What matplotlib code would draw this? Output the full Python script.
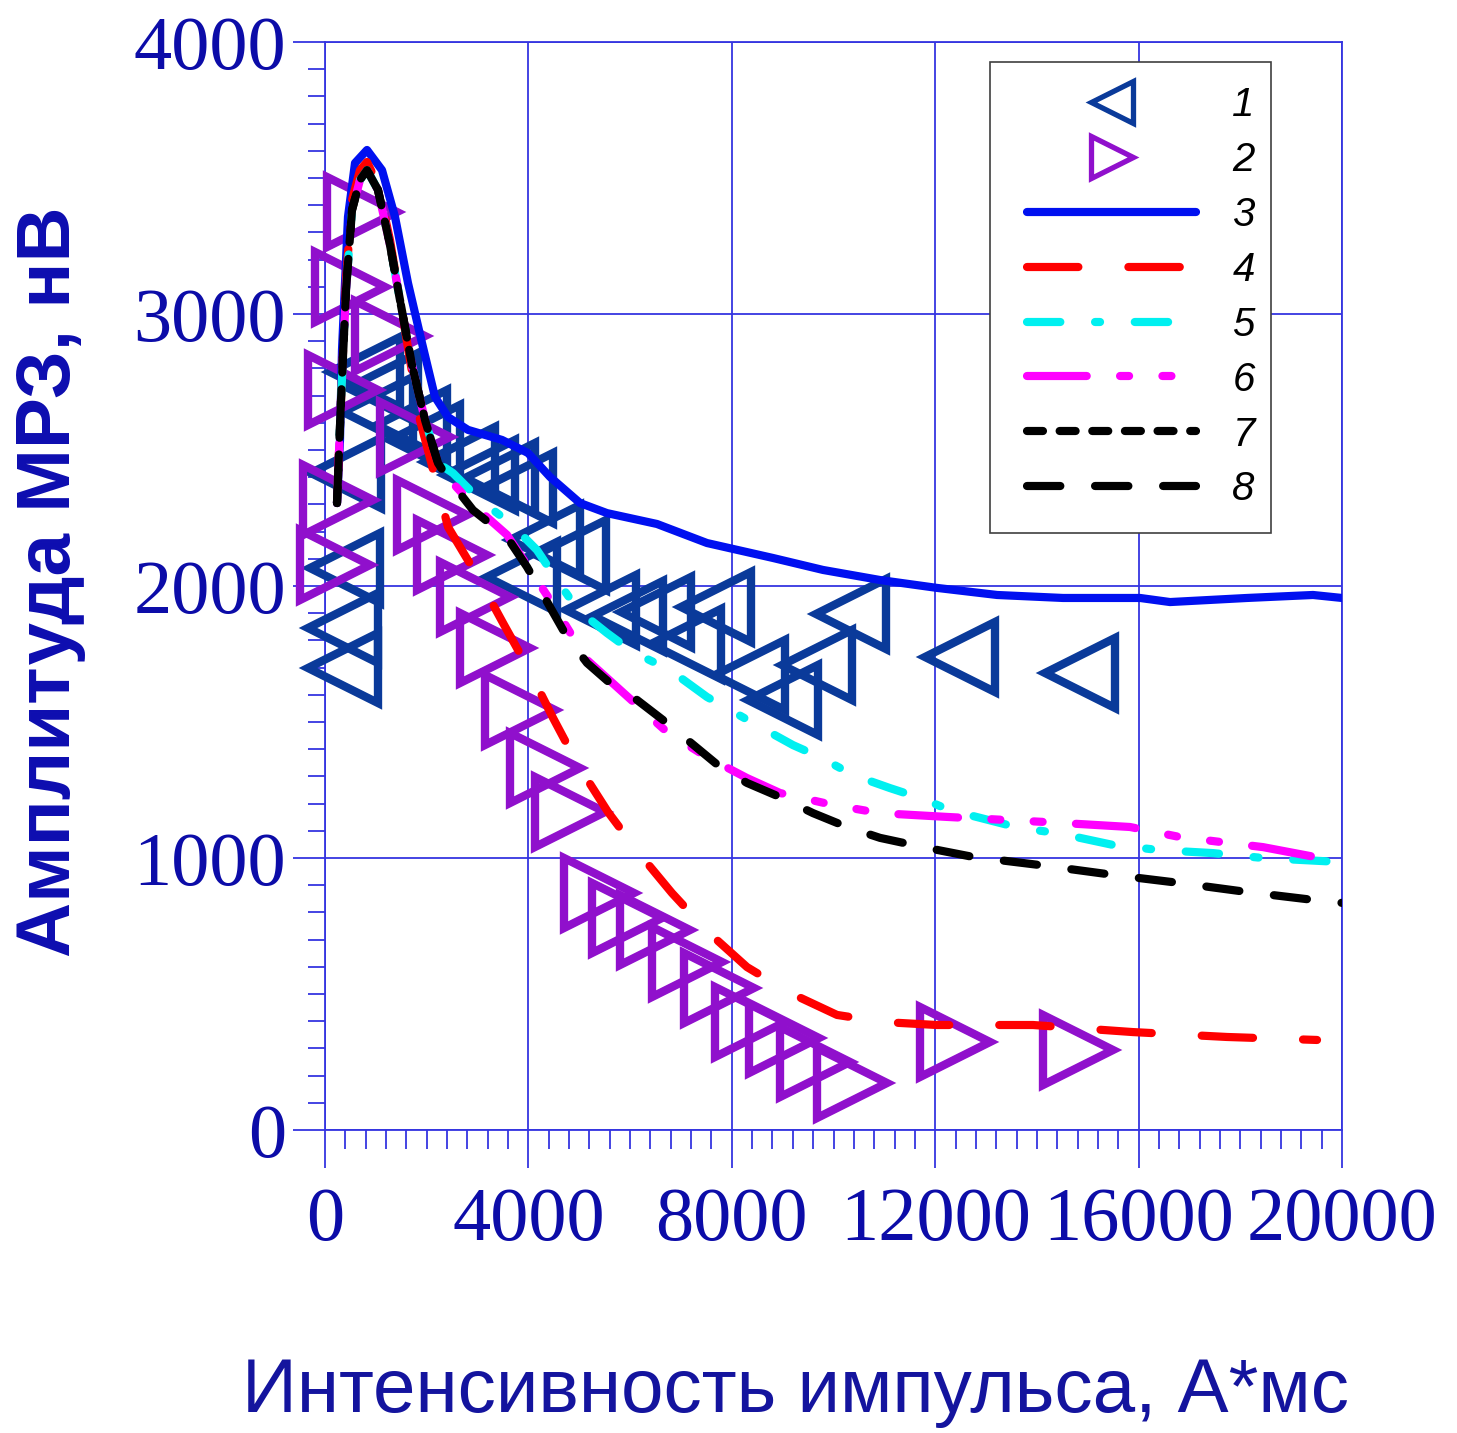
import matplotlib
matplotlib.use('Agg')
import matplotlib.pyplot as plt
from matplotlib.ticker import MultipleLocator
from matplotlib.patches import Rectangle

plt.rcParams['lines.scale_dashes'] = False
plt.rcParams['font.family'] = ['Liberation Sans', 'DejaVu Sans']

# ---- data ----
s1_x = [354, 354, 393, 413, 787, 1141, 1042, 1711, 1967, 2655, 3048, 3442, 3795, 3874,
        4327, 4838, 5428, 5959, 6509, 7099, 7689, 8358, 9007, 9676, 10344, 12488, 14848]
s1_y = [1699, 1846, 2066, 2415, 2787, 2728, 2640, 2592, 2537, 2456, 2408, 2397, 2360, 2033,
        2169, 2114, 1912, 1890, 1904, 1787, 1923, 1673, 1581, 1710, 1897, 1739, 1680]

s2_x = [728, 490, 1280, 350, 1770, 260, 200, 2100, 2500, 2950, 3340, 3830, 4330, 4820,
        5390, 5940, 6490, 7120, 7750, 8360, 9030, 9640, 10365, 12390, 14810]
s2_y = [3375, 3100, 2920, 2720, 2548, 2316, 2077, 2260, 2115, 1960, 1772, 1544, 1330, 1170,
        871, 779, 735, 618, 522, 397, 338, 250, 173, 323, 294]

c3_x = [236, 295, 334, 393, 452, 590, 826, 1121, 1377, 1632, 1908, 2163, 2419, 2812, 3481,
        3992, 4425, 5015, 5546, 6529, 7512, 8810, 9794, 10915, 12036, 13216, 14514, 16029,
        16618, 18132, 19430, 20000]
c3_y = [2305, 2537, 2868, 3114, 3357, 3555, 3603, 3529, 3357, 3114, 2893, 2695, 2621, 2574,
        2537, 2489, 2401, 2305, 2268, 2228, 2158, 2103, 2059, 2022, 1993, 1967, 1956, 1956,
        1941, 1956, 1967, 1956]

c4_x = [236, 315, 413, 531, 688, 826, 1042, 1278, 1475, 1672, 1868, 2163, 2419, 3009, 3501,
        3992, 4484, 4975, 5565, 6155, 6824, 7532, 8299, 9145, 10069, 10974, 12036, 13924,
        15890, 17739, 19509]
c4_y = [2305, 2684, 3125, 3419, 3529, 3559, 3474, 3272, 3051, 2831, 2610, 2401, 2217, 2033,
        1864, 1699, 1515, 1342, 1169, 1022, 871, 728, 599, 504, 423, 397, 386, 386, 360, 342,
        331]

peak_x = [236, 315, 413, 531, 688, 826, 1042, 1278, 1475, 1711, 1967, 2222]
peak_y = [2305, 2684, 3088, 3382, 3493, 3529, 3456, 3254, 3051, 2812, 2610, 2452]

c5_x = peak_x + [2517, 3048, 3638, 4169, 4563, 4975, 5546, 6057, 6785, 7512, 8554, 9204,
                 9735, 10384, 11111, 11701, 12291, 13668, 14396, 15497, 16421, 17464, 18447,
                 20000]
c5_y = peak_y + [2415, 2316, 2232, 2132, 2022, 1912, 1827, 1757, 1691, 1592, 1482, 1415,
                 1371, 1305, 1257, 1221, 1176, 1110, 1092, 1048, 1029, 1018, 1000, 985]

c6_x = peak_x + [2399, 2911, 3579, 4425, 5153, 6136, 6745, 7512, 8299, 8948, 9990, 10915,
                 12232, 14199, 15831, 16814, 18447, 20000]
c6_y = peak_y + [2401, 2298, 2188, 1949, 1728, 1562, 1460, 1371, 1294, 1239, 1195, 1165,
                 1151, 1132, 1114, 1077, 1040, 985]

c7_x = peak_x
c7_y = peak_y

c8_x = peak_x + [2399, 2911, 3579, 3973, 4425, 4759, 5153, 5605, 6136, 6726, 7768, 8299,
                 8948, 9597, 10266, 10915, 11839, 12744, 14061, 15497, 16814, 18132, 19430,
                 20000]
c8_y = peak_y + [2401, 2279, 2180, 2070, 1923, 1813, 1717, 1643, 1581, 1496, 1335, 1276,
                 1224, 1165, 1114, 1074, 1037, 1004, 974, 938, 908, 875, 846, 835]

legend_labels = ['1', '2', '3', '4', '5', '6', '7', '8']
x_ticks = [0, 4000, 8000, 12000, 16000, 20000]
y_ticks = [0, 1000, 2000, 3000, 4000]

# ---- figure ----
W, H = 1457, 1433
AX_L, AX_R, AX_T, AX_B = 325, 1342, 42, 1130
fig = plt.figure(figsize=(W / 100, H / 100), dpi=100)
ax = fig.add_axes([AX_L / W, 1 - AX_B / H, (AX_R - AX_L) / W, (AX_B - AX_T) / H])


def ax_frac(px, py):
    return (px - AX_L) / (AX_R - AX_L), (AX_B - py) / (AX_B - AX_T)


grid_c = '#3535e0'
tick_c = '#0c0ca8'
lw = 5.9

h1, = ax.plot(s1_x, s1_y, ls='none', marker='<', ms=50, mfc='none', mec='#0a3a9a',
              mew=6, clip_on=False, zorder=3)
h2, = ax.plot(s2_x, s2_y, ls='none', marker='>', ms=50, mfc='none', mec='#9010cc',
              mew=6, clip_on=False, zorder=3)
l3, = ax.plot(c3_x, c3_y, color='#0010f0', lw=lw, solid_capstyle='round',
              solid_joinstyle='round', zorder=4)
l4, = ax.plot(c4_x, c4_y, color='#ff0000', lw=lw, dashes=(37, 36),
              dash_capstyle='round', zorder=4)
l5, = ax.plot(c5_x, c5_y, color='#00f0f0', lw=lw, dashes=(24, 25, 3.6, 25),
              dash_capstyle='round', zorder=4)
l6, = ax.plot(c6_x, c6_y, color='#ff00ff', lw=lw, dashes=(43, 24, 6.5, 24, 6.5, 24),
              dash_capstyle='round', zorder=4)
l7, = ax.plot(c7_x, c7_y, color='#000000', lw=lw, dashes=(11.5, 12),
              dash_capstyle='round', zorder=4)
l8, = ax.plot(c8_x, c8_y, color='#000000', lw=lw, dashes=(24, 25),
              dash_capstyle='round', zorder=4.1)

ax.set_xlim(0, 20000)
ax.set_ylim(0, 4000)
ax.set_xticks(x_ticks)
ax.set_yticks(y_ticks)
ax.xaxis.set_minor_locator(MultipleLocator(400))
ax.yaxis.set_minor_locator(MultipleLocator(100))
ax.grid(True, which='major', color=grid_c, lw=1.3, zorder=1)
for sp in ax.spines.values():
    sp.set_color(grid_c)
    sp.set_linewidth(1.3)
ax.tick_params(which='major', direction='out', width=1.3, color=grid_c,
               labelsize=55, labelcolor=tick_c)
ax.tick_params(which='minor', direction='out', length=14, width=1.3, color=grid_c)
ax.tick_params(axis='x', which='major', length=27, pad=14)
ax.tick_params(axis='y', which='major', length=23, pad=5)
ax.tick_params(axis='y', which='minor', length=12)
for t in ax.get_xticklabels() + ax.get_yticklabels():
    t.set_fontfamily('Liberation Serif')

fig.text(51 / W, 1 - 582 / H, 'Амплитуда МРЗ, нВ', rotation=90, ha='center', va='center',
         fontsize=55, fontweight='bold', color='#0d0db0')
fig.text(796 / W, 1 - 1392 / H, 'Интенсивность импульса, А*мс', ha='center', va='center',
         fontsize=55, color='#14149e')

# legend frame
fx0, fy0 = ax_frac(990, 533)
fx1, fy1 = ax_frac(1271, 62)
ax.add_patch(Rectangle((fx0, fy0), fx1 - fx0, fy1 - fy0, transform=ax.transAxes,
                       facecolor='white', edgecolor='#404040', lw=1.2, zorder=5.5,
                       clip_on=False))

leg = ax.legend([h1, h2, l3, l4, l5, l6, l7, l8], legend_labels,
                loc='upper left', bbox_to_anchor=ax_frac(1027, 86),
                borderaxespad=0, prop=dict(family='Liberation Sans', style='italic', size=29),
                handlelength=4.2, handletextpad=0.9, labelspacing=0.42, borderpad=0,
                frameon=False, numpoints=1)
for hnd in leg.legend_handles[:2]:
    hnd.set_markersize(30)
    hnd.set_markeredgewidth(3.8)
leg.set_zorder(6)

fig.savefig('out.png', dpi=100, facecolor='white')
